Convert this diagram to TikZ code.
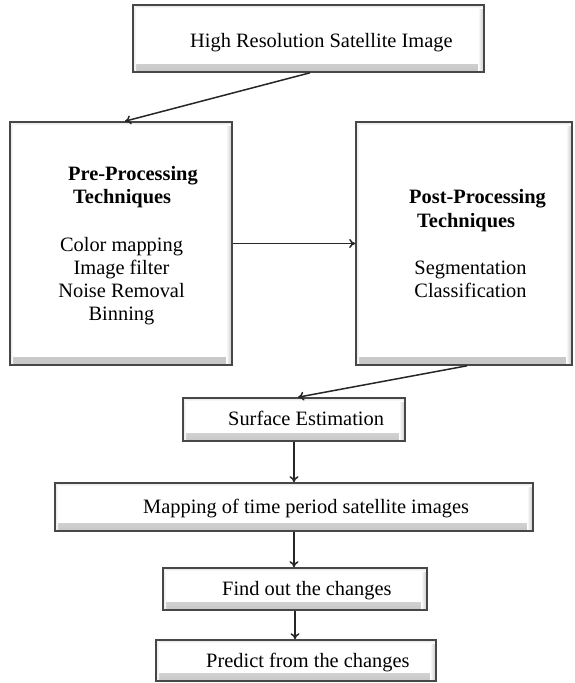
\documentclass[tikz,border=0pt]{standalone}
\usepackage{fontspec}
\setmainfont{Liberation Serif}
\usetikzlibrary{arrows.meta}

\tikzset{
  box/.style={draw=black!72, line width=1.6pt, fill=white, inner sep=0pt,
    path picture={
      \shade[top color=white, bottom color=black!22]
        ([yshift=8pt]path picture bounding box.south west) rectangle (path picture bounding box.south east);
      \shade[left color=white, right color=black!22]
        ([xshift=-6pt]path picture bounding box.south east) rectangle (path picture bounding box.north east);
      \shade[top color=black!12, bottom color=white]
        (path picture bounding box.north west) rectangle ([yshift=-3pt]path picture bounding box.north east);
      \shade[left color=black!10, right color=white]
        (path picture bounding box.south west) rectangle ([xshift=3pt]path picture bounding box.north west);
    }},
  txt/.style={anchor=base west, inner sep=0pt, font=\fontsize{20.4}{22.8}\selectfont},
  bold/.style={txt, font=\fontsize{20.4}{22.8}\selectfont\bfseries},
  list/.style={anchor=base, inner sep=0pt, align=center, font=\fontsize{20.4}{22.8}\selectfont},
  conn/.style={draw=black!85, line width=1.5pt, -{To[length=6pt,width=9pt]}},
}

\begin{document}
\begin{tikzpicture}[x=1pt, y=-1pt]
  \useasboundingbox (0,0) rectangle (575,683);

  % boxes
  \node[box, minimum width=351pt, minimum height=67pt] (top)  at (308.5,38.5) {};
  \node[box, minimum width=222pt, minimum height=243pt] (pre) at (121,243.5) {};
  \node[box, minimum width=216pt, minimum height=243pt] (post) at (464,243.5) {};
  \node[box, minimum width=222pt, minimum height=43pt] (surf) at (294,419.5) {};
  \node[box, minimum width=478pt, minimum height=48pt] (map)  at (294,507) {};
  \node[box, minimum width=264pt, minimum height=42pt] (find) at (295,589) {};
  \node[box, minimum width=280pt, minimum height=41pt] (pred) at (296,660.5) {};

  % labels (the base anchor of a multi-line node sits on its last line)
  \node[txt] (ttop) at (190,47) {High Resolution Satellite Image};
  \node[bold] (tpre1) at (68,180) {Pre-Processing};
  \node[bold] (tpre2) at (73,203) {Techniques};
  \node[list] (lpre) at (121.5,320) {Color mapping\\Image filter\\Noise Removal\\Binning};
  \node[bold] (tpost1) at (409,203) {Post-Processing};
  \node[bold] (tpost2) at (417,227) {Techniques};
  \node[list] (lpost) at (470.5,297) {Segmentation\\Classification};
  \node[txt] (tsurf) at (228,425) {Surface Estimation};
  \node[txt] (tmap) at (143,513) {Mapping of time period satellite images};
  \node[txt] (tfind) at (222,595) {Find out the changes};
  \node[txt] (tpred) at (206,667) {Predict from the changes};

  % connectors
  \draw[conn] ([xshift=1.5pt]top.south) -- ([xshift=4pt]pre.north);
  \draw[conn] (pre.east) -- (post.west);
  \draw[conn] ([xshift=3pt]post.south) -- ([xshift=4pt]surf.north);
  \draw[conn] (surf.south) -- (surf.south |- map.north);
  \draw[conn] (map.south) -- (map.south |- find.north);
  \draw[conn] (find.south) -- (find.south |- pred.north);
\end{tikzpicture}
\end{document}
